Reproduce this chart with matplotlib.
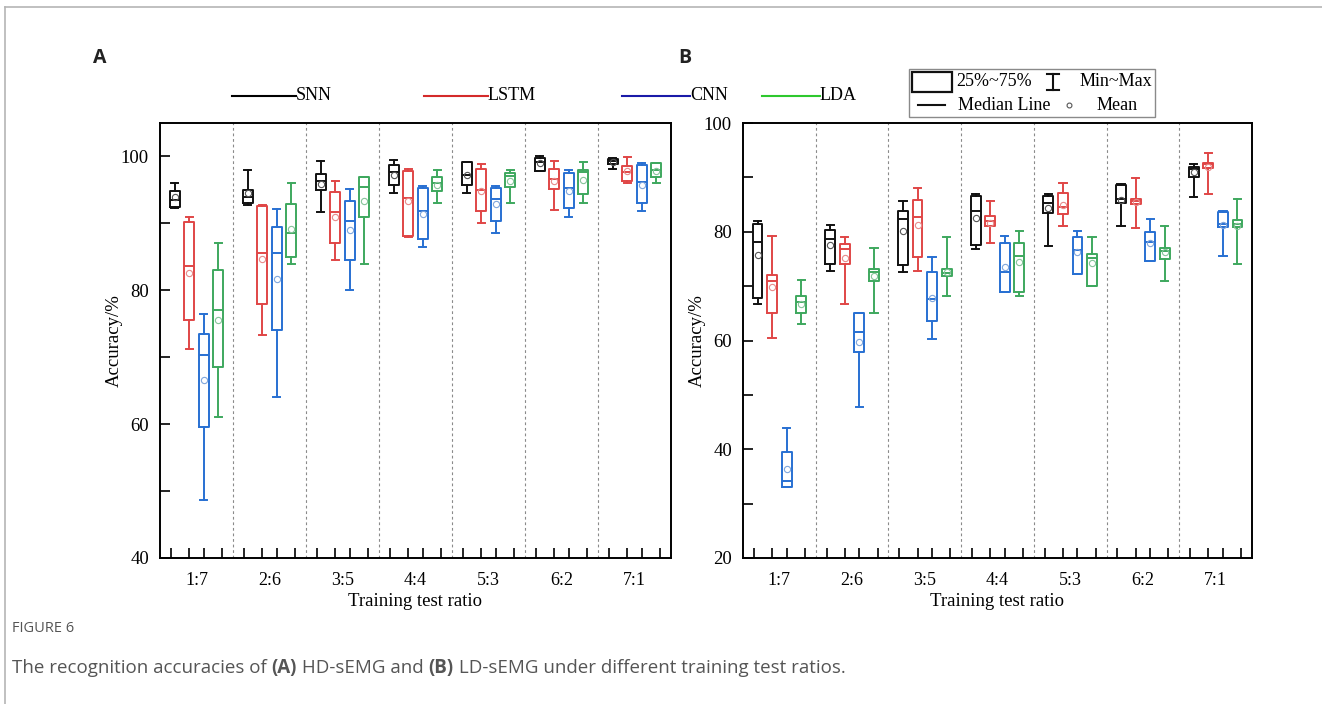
import matplotlib
matplotlib.use('Agg')
import matplotlib.pyplot as plt
from matplotlib.lines import Line2D
from matplotlib.patches import Rectangle

ratios = ['1:7', '2:6', '3:5', '4:4', '5:3', '6:2', '7:1']
models = ['SNN', 'LSTM', 'CNN', 'LDA']

# each entry: (min, q1, median, q3, max, mean) for one training test ratio
hd_snn = [(92.3, 92.4, 93.5, 94.9, 96.1, 93.9), (92.7, 93.0, 94.0, 95.0, 98.0, 94.5),
          (91.7, 95.0, 96.3, 97.4, 99.3, 95.9), (94.5, 95.7, 97.7, 98.7, 99.4, 97.3),
          (94.5, 95.8, 97.3, 99.2, 99.2, 97.2), (97.9, 97.9, 99.2, 99.8, 100.0, 99.0),
          (98.2, 98.9, 99.3, 99.6, 99.8, 99.2)]
hd_lstm = [(71.2, 75.6, 83.6, 90.2, 91.0, 82.6), (73.3, 77.9, 85.6, 92.6, 92.7, 84.7),
           (84.6, 87.0, 91.7, 94.7, 96.4, 90.9), (88.0, 88.1, 93.8, 97.8, 98.1, 93.3),
           (90.0, 91.9, 95.0, 98.2, 98.9, 94.8), (92.0, 95.2, 96.7, 98.2, 99.3, 96.3),
           (96.0, 96.3, 97.7, 98.5, 99.9, 97.9)]
hd_cnn = [(48.6, 59.5, 70.3, 73.5, 76.5, 66.6), (64.1, 74.0, 85.5, 89.4, 92.1, 81.7),
          (80.0, 84.5, 90.3, 93.3, 95.2, 89.0), (86.5, 87.7, 91.9, 95.3, 95.6, 91.4),
          (88.6, 90.3, 93.6, 95.3, 95.6, 92.9), (90.9, 92.3, 95.3, 97.5, 98.0, 94.8),
          (91.9, 93.0, 96.2, 98.7, 99.0, 95.8)]
hd_lda = [(61.1, 68.6, 77.0, 83.0, 87.0, 75.6), (84.0, 85.0, 88.5, 92.9, 96.1, 89.1),
          (84.0, 90.9, 95.4, 97.0, 97.0, 93.4), (93.0, 94.9, 96.0, 97.0, 98.0, 95.8),
          (93.0, 95.4, 97.1, 97.5, 98.0, 96.4), (93.0, 94.4, 97.7, 98.0, 99.1, 96.5),
          (96.0, 96.9, 98.0, 99.0, 99.0, 97.8)]

ld_snn = [(66.8, 67.9, 78.2, 81.4, 82.0, 75.7), (72.8, 74.1, 78.6, 80.3, 81.2, 77.5),
          (72.6, 73.9, 82.4, 83.8, 85.7, 80.2), (76.8, 77.5, 83.8, 86.5, 86.9, 82.6),
          (77.4, 83.5, 85.3, 86.6, 86.9, 84.3), (81.0, 85.2, 86.0, 88.6, 88.7, 85.8),
          (86.3, 90.0, 91.6, 91.9, 92.5, 90.9)]
ld_lstm = [(60.4, 65.0, 71.0, 72.0, 79.3, 69.9), (66.8, 74.0, 76.9, 77.7, 79.1, 75.2),
           (72.8, 75.3, 82.7, 85.9, 88.1, 81.2), (78.0, 81.0, 82.0, 82.9, 85.7, 81.7),
           (81.0, 83.2, 84.5, 87.1, 88.9, 85.0), (80.7, 85.1, 85.7, 86.0, 89.8, 85.5),
           (86.9, 91.7, 92.4, 92.7, 94.4, 91.9)]
ld_cnn = [(33.0, 33.0, 34.2, 39.5, 44.0, 36.4), (47.7, 57.8, 61.5, 65.1, 65.1, 59.8),
          (60.3, 63.6, 67.6, 72.6, 75.4, 67.9), (69.0, 69.0, 72.6, 78.0, 79.3, 73.6),
          (72.2, 72.3, 76.6, 79.1, 80.1, 76.2), (74.7, 74.7, 78.2, 80.0, 82.3, 78.0),
          (75.5, 80.9, 81.4, 83.7, 83.8, 81.2)]
ld_lda = [(63.0, 65.0, 67.1, 68.1, 71.1, 66.8), (65.0, 71.0, 72.6, 73.1, 77.1, 71.8),
          (68.1, 71.9, 72.5, 73.1, 79.1, 72.6), (68.1, 69.0, 75.6, 78.0, 80.1, 74.4),
          (70.1, 70.1, 75.1, 76.0, 79.1, 74.2), (71.0, 75.0, 76.4, 77.1, 81.0, 76.3),
          (74.0, 80.8, 81.5, 82.1, 86.0, 81.0)]

box_colors = ['#111111', '#e04646', '#2870d2', '#3ea85e']
mean_colors = ['#555555', '#e88a8a', '#7fa6dc', '#86c49a']
legend_colors = ['#000000', '#d42a2a', '#1a1aa8', '#2ec82e']

W, H = 1322, 704
serif = 'Liberation Serif'


def fx(x):
    return x / W


def fy(y):
    return 1 - y / H


def to_stats(rows):
    stats = []
    for lo, q1, med, q3, hi, mean in rows:
        stats.append({'whislo': lo, 'q1': q1, 'med': med, 'q3': q3,
                      'whishi': hi, 'mean': mean, 'fliers': []})
    return stats


def draw_panel(ax, series, ylim, yticks, label_x):
    offsets = [-0.3, -0.1, 0.1, 0.3]
    for k, rows in enumerate(series):
        c = box_colors[k]
        pos = [i + 1 + offsets[k] for i in range(len(ratios))]
        ax.bxp(to_stats(rows), positions=pos, widths=0.135, capwidths=0.1,
               showmeans=True, showfliers=False, manage_ticks=False,
               boxprops=dict(color=c, linewidth=1.4),
               whiskerprops=dict(color=c, linewidth=1.4),
               capprops=dict(color=c, linewidth=1.4),
               medianprops=dict(color=c, linewidth=1.4),
               meanprops=dict(marker='o', markerfacecolor='none',
                              markeredgecolor=mean_colors[k], markersize=4.5,
                              markeredgewidth=0.8))
    for i in range(len(ratios) - 1):
        ax.axvline(i + 1.5, color='#8a8a8a', linestyle=(0, (2.5, 2.5)), linewidth=0.8)

    ax.set_xlim(0.5, len(ratios) + 0.5)
    ax.set_ylim(*ylim)
    tick_off = [-0.35, -0.1, 0.1, 0.35]
    ax.set_xticks([i + 1 + o for i in range(len(ratios)) for o in tick_off])
    ax.set_xticklabels([])
    ax.set_xticks(range(1, len(ratios) + 1), minor=True)
    ax.set_xticklabels(ratios, minor=True, fontfamily=serif, fontsize=13)
    ax.tick_params(axis='x', which='major', direction='in', length=7, width=1.2)
    ax.tick_params(axis='x', which='minor', length=0, pad=10)
    ax.set_yticks(yticks)
    ax.set_yticklabels([str(t) for t in yticks], fontfamily=serif, fontsize=13.5)
    ax.set_yticks([t + 10 for t in yticks[:-1]], minor=True)
    ax.tick_params(axis='y', which='both', direction='in', length=7, width=1.2, pad=8)
    for s in ax.spines.values():
        s.set_linewidth(1.4)
    ax.set_xlabel('Training test ratio', fontfamily=serif, fontsize=13.5, labelpad=3)
    ax.set_ylabel('Accuracy/%', fontfamily=serif, fontsize=13.5)
    ax.yaxis.set_label_coords(label_x, 0.5)


fig = plt.figure(figsize=(W / 100, H / 100), dpi=100)

ax_a = fig.add_axes([fx(160), fy(558), (671 - 160) / W, (558 - 123) / H])
draw_panel(ax_a, [hd_snn, hd_lstm, hd_cnn, hd_lda], (40, 105), [40, 60, 80, 100],
           (123 - 160) / 511)

ax_b = fig.add_axes([fx(743), fy(558), (1252 - 743) / W, (558 - 123) / H])
draw_panel(ax_b, [ld_snn, ld_lstm, ld_cnn, ld_lda], (20, 100), [20, 40, 60, 80, 100],
           (706 - 743) / 509)

# panel letters
fig.text(fx(93), fy(58), 'A', fontfamily='Open Sans', fontweight='bold', fontsize=14,
         color='#222222', va='center')
fig.text(fx(678), fy(58), 'B', fontfamily='Open Sans', fontweight='bold', fontsize=14,
         color='#222222', va='center')

# legend of panel A, line then name
leg_x = [(232, 296), (424, 488), (622, 690), (762, 820)]
for k, name in enumerate(models):
    x0, x1 = leg_x[k]
    fig.add_artist(Line2D([fx(x0), fx(x1)], [fy(96), fy(96)], color=legend_colors[k],
                          linewidth=1.5, transform=fig.transFigure))
    fig.text(fx(x1), fy(96), name, fontfamily=serif, fontsize=13, va='center', ha='left')

# key box of panel B
fig.add_artist(Rectangle((fx(909), fy(117)), (1155 - 909) / W, (117 - 69) / H,
                         fill=False, edgecolor='#8a8a8a', linewidth=1.0,
                         transform=fig.transFigure))
fig.add_artist(Rectangle((fx(912), fy(92)), 40 / W, 20 / H, fill=False,
                         edgecolor='#111111', linewidth=1.6, transform=fig.transFigure))
fig.text(fx(956), fy(82), '25%~75%', fontfamily=serif, fontsize=13, va='center')
fig.add_artist(Line2D([fx(1053), fx(1053)], [fy(74), fy(90)], color='#111111',
                      linewidth=1.5, transform=fig.transFigure))
for yy in (74, 90):
    fig.add_artist(Line2D([fx(1047), fx(1059)], [fy(yy), fy(yy)], color='#111111',
                          linewidth=1.5, transform=fig.transFigure))
fig.text(fx(1080), fy(82), 'Min~Max', fontfamily=serif, fontsize=13, va='center')
fig.add_artist(Line2D([fx(918), fx(945)], [fy(105), fy(105)], color='#111111',
                      linewidth=1.5, transform=fig.transFigure))
fig.text(fx(958), fy(105), 'Median Line', fontfamily=serif, fontsize=13, va='center')
fig.add_artist(Line2D([fx(1069)], [fy(105)], marker='o', markersize=3.5,
                      markerfacecolor='none', markeredgecolor='#555555',
                      markeredgewidth=0.8, transform=fig.transFigure))
fig.text(fx(1097), fy(105), 'Mean', fontfamily=serif, fontsize=13, va='center')

# page frame
fig.add_artist(Line2D([fx(5), fx(W)], [fy(7), fy(7)], color='#b5b5b5', linewidth=1.2,
                      transform=fig.transFigure))
fig.add_artist(Line2D([fx(5), fx(5)], [fy(7), fy(H)], color='#b5b5b5', linewidth=1.2,
                      transform=fig.transFigure))

# caption
fig.text(fx(12), fy(629), 'FIGURE 6', fontfamily='Open Sans', fontsize=10.5,
         color='#555555', va='center')
pieces = [('The recognition accuracies of ', 'normal'), ('(A)', 'bold'),
          (' HD-sEMG and ', 'normal'), ('(B)', 'bold'),
          (' LD-sEMG under different training test ratios.', 'normal')]
renderer = fig.canvas.get_renderer()
x = fx(12)
for txt, wt in pieces:
    t = fig.text(x, fy(668), txt, fontfamily='Open Sans', fontsize=13.5, fontweight=wt,
                 color='#555555', va='center')
    bb = t.get_window_extent(renderer)
    x = bb.x1 / W

fig.savefig('out.png', dpi=100)
